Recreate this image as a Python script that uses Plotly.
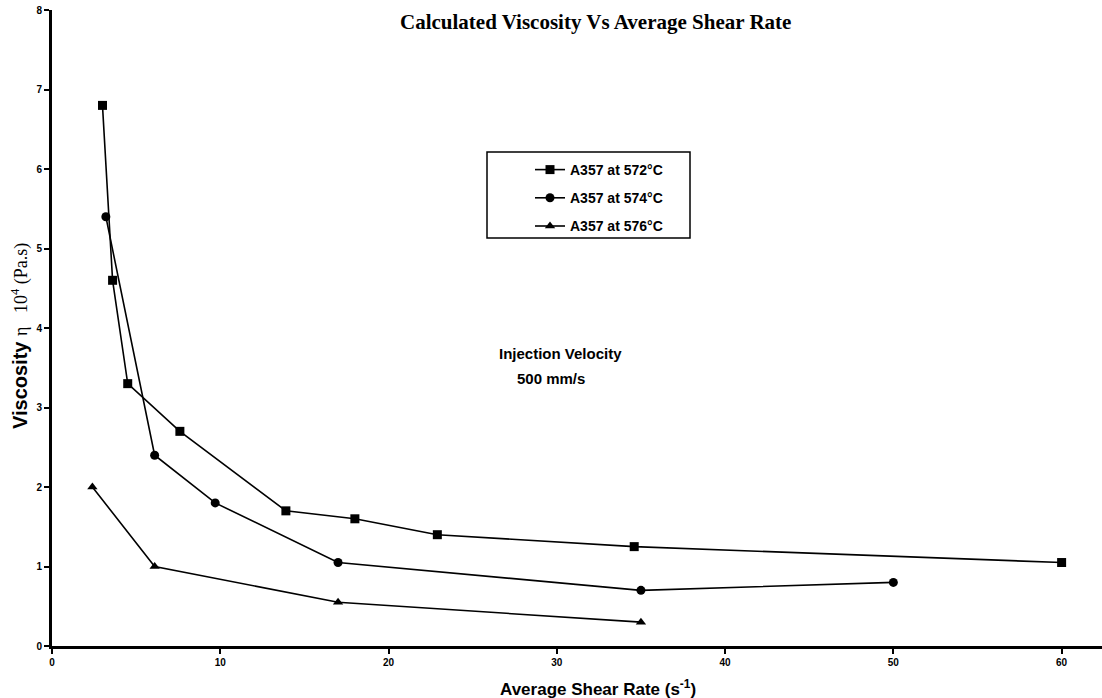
import plotly.graph_objects as go

# Data
shear_572 = [3.0, 3.6, 4.5, 7.6, 13.9, 18.0, 22.9, 34.6, 60.0]
visc_572 = [6.8, 4.6, 3.3, 2.7, 1.7, 1.6, 1.4, 1.25, 1.05]

shear_574 = [3.2, 6.1, 9.7, 17.0, 35.0, 50.0]
visc_574 = [5.4, 2.4, 1.8, 1.05, 0.7, 0.8]

shear_576 = [2.4, 6.1, 17.0, 35.0]
visc_576 = [2.0, 1.0, 0.55, 0.3]

series_names = ["A357 at 572°C", "A357 at 574°C", "A357 at 576°C"]
x_ticks = [0, 10, 20, 30, 40, 50, 60]
y_ticks = [0, 1, 2, 3, 4, 5, 6, 7, 8]

W, H = 1102, 698
ML, MR, MT, MB = 52, 0, 10, 52

fig = go.Figure()
for name, xs, ys, sym in zip(series_names,
                              [shear_572, shear_574, shear_576],
                              [visc_572, visc_574, visc_576],
                              ["square", "circle", "triangle-up"]):
    fig.add_trace(go.Scatter(
        x=xs, y=ys, name=name, mode="lines+markers",
        line=dict(color="black", width=1.6),
        marker=dict(symbol=sym, size=9, color="black"),
        legendgroup=name,
    ))

def px_x(p):
    return (p - ML) / (W - ML - MR)

def px_y(p):
    return 1 - (p - MT) / (H - MT - MB)

fig.update_layout(
    width=W, height=H,
    margin=dict(l=ML, r=MR, t=MT, b=MB),
    paper_bgcolor="white", plot_bgcolor="white",
    showlegend=True,
    legend=dict(
        x=px_x(530), y=px_y(154), xanchor="left", yanchor="top",
        bgcolor="rgba(0,0,0,0)", borderwidth=0,
        font=dict(family="Liberation Sans, Arial", size=14, color="black", weight="bold"),
        traceorder="grouped", tracegroupgap=7,
        itemwidth=30,
    ),
    xaxis=dict(
        range=[0, 62.4], tickvals=x_ticks, ticktext=[str(v) for v in x_ticks],
        showline=True, linecolor="black", linewidth=3,
        ticks="outside", ticklen=5, tickwidth=2, tickcolor="black",
        showgrid=False, zeroline=False,
        tickfont=dict(family="Liberation Sans, Arial", size=10, color="black", weight="bold"),
    ),
    yaxis=dict(
        range=[0, 8], tickvals=y_ticks, ticktext=[str(v) for v in y_ticks],
        showline=True, linecolor="black", linewidth=3,
        ticks="outside", ticklen=5, tickwidth=2, tickcolor="black",
        showgrid=False, zeroline=False,
        tickfont=dict(family="Liberation Sans, Arial", size=10, color="black", weight="bold"),
    ),
    shapes=[dict(type="rect", xref="paper", yref="paper",
                 x0=px_x(487), x1=px_x(690), y0=px_y(238), y1=px_y(152),
                 line=dict(color="black", width=1.5))],
    annotations=[
        dict(text="Calculated Viscosity Vs Average Shear Rate", xref="paper", yref="paper",
             x=px_x(595), y=px_y(22), xanchor="center", yanchor="middle", showarrow=False,
             font=dict(family="Liberation Serif, Times New Roman", size=21, color="black", weight="bold")),
        dict(text="Average Shear Rate (s<sup>-1</sup>)", xref="paper", yref="paper",
             x=px_x(598), y=px_y(688), xanchor="center", yanchor="middle", showarrow=False,
             font=dict(family="Liberation Sans, Arial", size=17, color="black", weight="bold")),
        dict(text="Viscosity <span style='font-family:Liberation Serif;font-weight:normal;font-size:18px'>η   10<sup>4</sup> (Pa.s)</span>",
             xref="paper", yref="paper", textangle=-90,
             x=px_x(20), y=px_y(336), xanchor="center", yanchor="middle", showarrow=False,
             font=dict(family="Liberation Sans, Arial", size=20, color="black", weight="bold")),
        dict(text="Injection Velocity", xref="paper", yref="paper",
             x=px_x(497), y=px_y(353), xanchor="left", yanchor="middle", showarrow=False,
             font=dict(family="Liberation Sans, Arial", size=15, color="black", weight="bold")),
        dict(text="500 mm/s", xref="paper", yref="paper",
             x=px_x(515), y=px_y(378), xanchor="left", yanchor="middle", showarrow=False,
             font=dict(family="Liberation Sans, Arial", size=15, color="black", weight="bold")),
    ],
)

fig.write_html("out.html")
